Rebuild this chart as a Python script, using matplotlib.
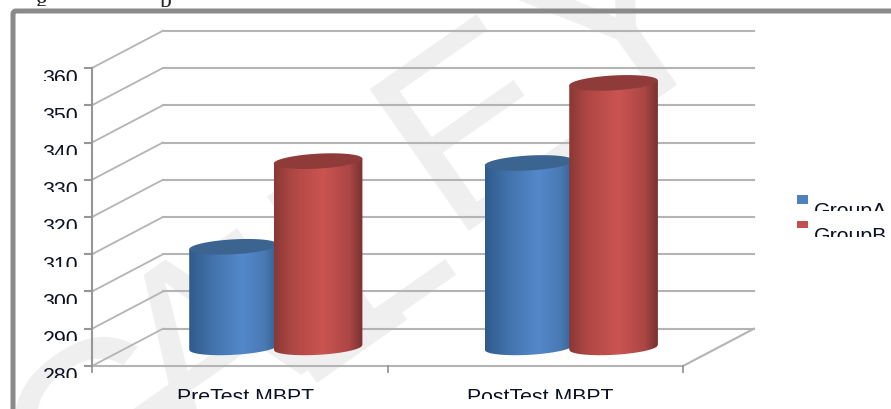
import matplotlib
matplotlib.use('Agg')
import matplotlib.pyplot as plt
import numpy as np
from matplotlib.colors import LinearSegmentedColormap
from matplotlib.lines import Line2D
from matplotlib.patches import FancyBboxPatch, Polygon, Rectangle
from matplotlib.transforms import Bbox

W, H = 891, 410

categories = ['PreTest MBPT', 'PostTest MBPT']
series_names = ['GroupA', 'GroupB']
group_a = [307, 329.5]
group_b = [330, 351]
y_ticks = [280, 290, 300, 310, 320, 330, 340, 350, 360]

# watermark letters: letter, x px, y px
wm_letters = ['G', 'A', 'L', 'L', 'E', 'Y']
wm_x = [115, 215, 316, 365, 480, 630]
wm_y = [440, 355, 290, 245, 130, 35]

plt.rcParams['font.family'] = ['Liberation Sans', 'DejaVu Sans']

DEPTH_X = 0.24
DEPTH_Y = 10
GRID = '#b4b4b4'
AXIS = '#969696'
TEXT = '#0c1224'
FS = 15.3


def px(x, y):
    return x / W, 1 - y / H


fig = plt.figure(figsize=(W / 100, H / 100), dpi=100, facecolor='white')

# front plane of the chart, the depth is added on top of it
left, bottom = px(92, 367)
right, top = px(683, 69)
ax = fig.add_axes([left, bottom, right - left, top - bottom], zorder=2)
ax.set_xlim(0, 2)
ax.set_ylim(280, 360)
ax.axis('off')

# watermark behind everything
for letter, x, y in zip(wm_letters, wm_x, wm_y):
    fx, fy = px(x, y)
    fig.text(fx, fy, letter, fontsize=180, color='#efefef', rotation=35,
             ha='center', va='center', rotation_mode='anchor', zorder=0)

# grey frame, runs off the page on the right and at the bottom
frame = FancyBboxPatch((13, -40), W + 60, H + 40 - 12, transform=None,
                       boxstyle='round,pad=0,rounding_size=3',
                       fc='none', ec='#8a8a8a', lw=3.6, zorder=1)
fig.add_artist(frame)

# walls and floor
for v in y_ticks:
    ax.plot([0, DEPTH_X], [v, v + DEPTH_Y], color=GRID, lw=1.3, clip_on=False, zorder=1)
    ax.plot([DEPTH_X, 2 + DEPTH_X], [v + DEPTH_Y] * 2, color=GRID, lw=1.5, clip_on=False, zorder=1)
ax.plot([0, 2, 2 + DEPTH_X], [280, 280, 280 + DEPTH_Y], color=GRID, lw=1.5, clip_on=False, zorder=1)

# axis lines and ticks
ax.plot([0, 0], [280, 360], color=AXIS, lw=1.5, clip_on=False, zorder=1.5)
tr = ax.transData
for v in y_ticks:
    x0, y0 = tr.transform((0, v))
    ax.add_line(Line2D([x0 - 7, x0], [y0, y0], transform=None, color=AXIS, lw=1.5, clip_on=False, zorder=1.5))
for c in [0, 1, 2]:
    x0, y0 = tr.transform((c, 280))
    ax.add_line(Line2D([x0, x0], [y0, y0 - 6], transform=None, color=AXIS, lw=1.3, clip_on=False, zorder=1.5))


def cut_text(x, y, s, cut, ha='left', **kw):
    # the labels in the scan are cut off under the top part of the letters
    t = fig.text(x / W, 1 - y / H, s, ha=ha, va='top', color=kw.pop('color', TEXT),
                 fontsize=kw.pop('fontsize', FS), zorder=5, **kw)
    t.set_clip_box(Bbox([[0, H - cut], [W, H]]))
    t.set_clip_on(True)
    return t


for v in y_ticks:
    yp = H - tr.transform((0, v))[1]
    cut_text(78, yp + 0.5, str(v), yp + 12.5, ha='right')

cut_text(246, 388.5, categories[0], 399.5, ha='center')
cut_text(540, 388.5, categories[1], 399.5, ha='center')

# scraps of the caption line above the chart
cut_text(36, -9, 'g', 7, family='Liberation Serif', fontsize=17, color='#222222')
cut_text(160, -9, 'p', 7.5, family='Liberation Serif', fontsize=17, color='#222222')

BLUE = [(0, '#2f5a8c'), (0.25, '#4272aa'), (0.6, '#5388cb'), (0.85, '#4a7ab5'), (1, '#33608f')]
RED = [(0, '#8a3836'), (0.2, '#ae4744'), (0.55, '#cb5451'), (0.85, '#ab4745'), (1, '#783230')]
BLUE_TOP = '#3c6491'
RED_TOP = '#8f3b39'
HALF_W = 0.15
EL_H = 2.0
TILT = 0.65


def cylinder(xc, value, stops, top_color, z):
    cx = xc + DEPTH_X / 2
    base = 280 + DEPTH_Y / 2
    head = value + DEPTH_Y / 2
    u = np.linspace(-1, 1, 90)
    outline_x = cx + HALF_W * u
    low = base + TILT * u - EL_H * np.sqrt(1 - u ** 2)
    high = head + TILT * u
    body = Polygon(np.column_stack([np.r_[outline_x, outline_x[::-1]], np.r_[low, high[::-1]]]),
                   transform=ax.transData, fc='none', ec='none')
    ax.add_patch(body)
    cmap = LinearSegmentedColormap.from_list('cyl', stops)
    im = ax.imshow(np.linspace(0, 1, 200)[None, :], cmap=cmap, aspect='auto', origin='lower',
                   extent=(cx - HALF_W, cx + HALF_W, base - EL_H - TILT, head + TILT),
                   zorder=z, interpolation='bilinear')
    im.set_clip_path(body)
    t = np.linspace(0, 2 * np.pi, 120)
    ax.fill(cx + HALF_W * np.cos(t), head + TILT * np.cos(t) + EL_H * np.sin(t),
            color=top_color, lw=0, clip_on=False, zorder=z + 0.1)


for i in range(2):
    cylinder(i + 0.5 - 0.141, group_a[i], BLUE, BLUE_TOP, 3)
    cylinder(i + 0.5 + 0.145, group_b[i], RED, RED_TOP, 3.2)
ax.set_xlim(0, 2)
ax.set_ylim(280, 360)

# legend
for name, col, y0, y1, ty, cut in [(series_names[0], '#4f81bd', 196, 205, 202, 212),
                                   (series_names[1], '#c0504d', 222, 229, 227.5, 238)]:
    fig.add_artist(Rectangle((797, H - y1), 11, y1 - y0, transform=None, fc=col, ec='none', zorder=5))
    cut_text(814, ty, name, cut)

fig.savefig('out.png', dpi=100, facecolor='white')
